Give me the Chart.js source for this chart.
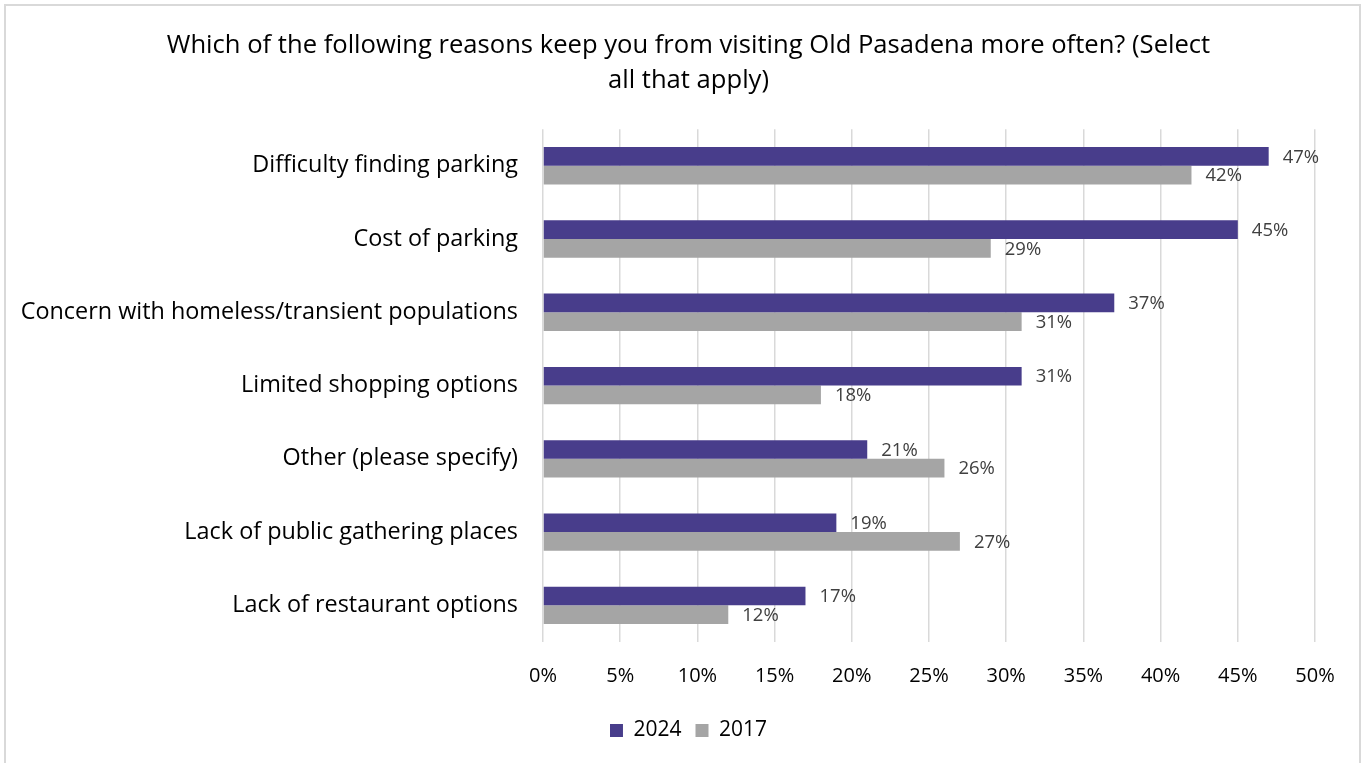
<!DOCTYPE html>
<html>
<head>
<meta charset="utf-8">
<script src="https://cdn.jsdelivr.net/npm/chart.js@4.4.1/dist/chart.umd.min.js"></script>
<style>
    html, body { margin: 0; padding: 0; background: #fff; overflow: hidden; }
    .frame {
        position: absolute; left: 4px; top: 4px; width: 1357px; height: 800px;
        border: 2px solid #d9d9d9; box-sizing: border-box;
    }
    .wrap { position: absolute; left: 0; top: 0; width: 1366px; height: 763px; }
</style>
</head>
<body>
<div class="frame"></div>
<div class="wrap"><canvas id="reasonsChart"></canvas></div>
<script>
var reasons = [
    'Difficulty finding parking',
    'Cost of parking',
    'Concern with homeless/transient populations',
    'Limited shopping options',
    'Other (please specify)',
    'Lack of public gathering places',
    'Lack of restaurant options'
];
var values2024 = [47, 45, 37, 31, 21, 19, 17];
var values2017 = [42, 29, 31, 18, 26, 27, 12];
var tickValues = [0, 5, 10, 15, 20, 25, 30, 35, 40, 45, 50];

var FONT = '"Open Sans", sans-serif';
var PAD_LEFT = 62;

// value labels just past the end of each bar
var barLabels = {
    id: 'barLabels',
    afterDatasetsDraw: function (chart) {
        var ctx = chart.ctx;
        ctx.save();
        ctx.font = '18.5px ' + FONT;
        ctx.fillStyle = '#404040';
        ctx.textAlign = 'left';
        ctx.textBaseline = 'middle';
        chart.data.datasets.forEach(function (ds, i) {
            chart.getDatasetMeta(i).data.forEach(function (bar, j) {
                ctx.fillText(ds.data[j] + '%', bar.x + 14, bar.y + 1);
            });
        });
        ctx.restore();
    }
};

// let the long category names run into the left padding instead of being clipped
var widenCategoryAxis = {
    id: 'widenCategoryAxis',
    afterLayout: function (chart) {
        chart.scales.y.left = 0;
    }
};

new Chart(document.getElementById('reasonsChart'), {
    type: 'bar',
    data: {
        labels: reasons,
        datasets: [{
            label: '2024',
            data: values2024,
            backgroundColor: '#483d8b',
            categoryPercentage: 0.51,
            barPercentage: 1
        }, {
            label: '2017',
            data: values2017,
            backgroundColor: '#a5a5a5',
            categoryPercentage: 0.51,
            barPercentage: 1
        }]
    },
    options: {
        indexAxis: 'y',
        responsive: true,
        maintainAspectRatio: false,
        animation: false,
        layout: { padding: { left: PAD_LEFT, right: 51, top: 28, bottom: 12 } },
        scales: {
            x: {
                min: 0,
                max: 50,
                afterBuildTicks: function (scale) {
                    scale.ticks = tickValues.map(function (v) { return { value: v }; });
                },
                afterFit: function (scale) { scale.height = 64; },
                grid: { color: '#d9d9d9', lineWidth: 1.5, drawTicks: false },
                border: { display: false },
                ticks: {
                    padding: 22,
                    color: '#000',
                    font: { family: FONT, size: 20 },
                    callback: function (v) { return v + '%'; }
                }
            },
            y: {
                afterFit: function (scale) { scale.width = 543 - PAD_LEFT; },
                grid: { display: false, drawTicks: false },
                border: { display: false },
                ticks: {
                    padding: 25,
                    color: '#000',
                    font: { family: FONT, size: 23.4 }
                }
            }
        },
        plugins: {
            title: {
                display: true,
                text: ['Which of the following reasons keep you from visiting Old Pasadena more often? (Select', 'all that apply)'],
                color: '#000',
                font: { family: FONT, size: 25.6, weight: 'normal', lineHeight: 1.37 },
                padding: { top: 0, bottom: 31 }
            },
            legend: {
                position: 'bottom',
                labels: {
                    color: '#000',
                    font: { family: FONT, size: 21 },
                    boxWidth: 13,
                    boxHeight: 13,
                    padding: 14
                }
            },
            tooltip: { enabled: false }
        }
    },
    plugins: [barLabels, widenCategoryAxis]
});
</script>
</body>
</html>
